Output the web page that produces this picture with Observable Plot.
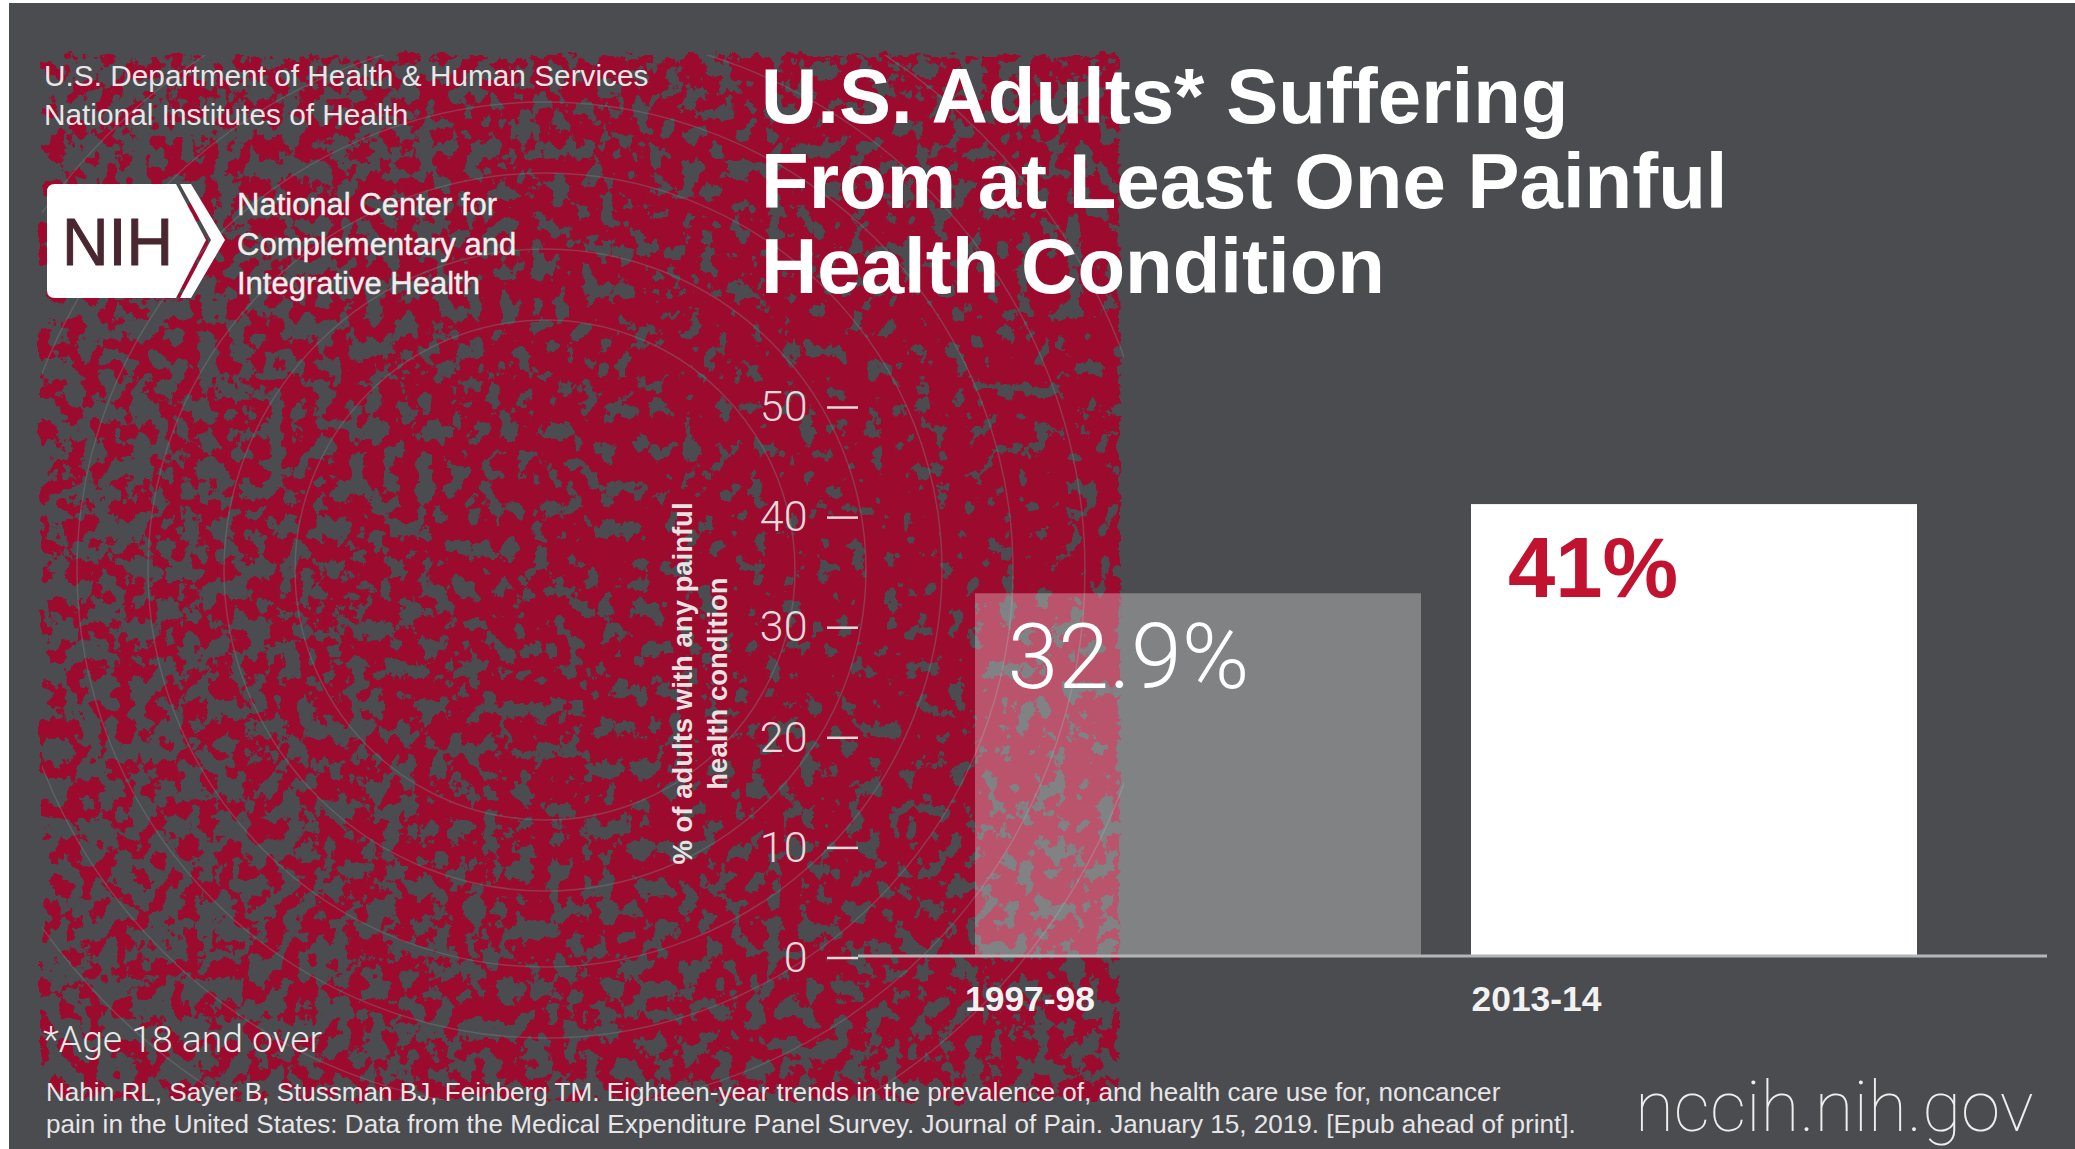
<!DOCTYPE html>
<html>
<head>
<meta charset="utf-8">
<script src="https://cdn.jsdelivr.net/npm/d3@7"></script>
<script src="https://cdn.jsdelivr.net/npm/@observablehq/plot@0.6"></script>
<style>
  html, body { margin: 0; padding: 0; background: #fff; }
  #page { position: relative; width: 2075px; height: 1149px; overflow: hidden; font-family: "Liberation Sans", sans-serif; }
  #panel { position: absolute; left: 9px; top: 3px; right: 0; bottom: 0; background: #4b4c50; }
  #chart { position: absolute; left: 0; top: 0; }
  #chart svg { display: block; background: transparent; }
  .t { position: absolute; white-space: pre; color: #fff; line-height: 1; }
  #title { left: 761px; top: 54px; font: bold 78px/85px "Liberation Sans", sans-serif; }
  #dept { left: 44px; top: 56px; font-size: 29.8px; line-height: 39px; color: #e6e6e7; }
  #center { left: 237px; top: 185px; font-size: 31px; line-height: 39.5px; color: #eeeeee; -webkit-text-stroke: .4px #eeeeee; }
  #logo { position: absolute; left: 0; top: 0; }
  #age { left: 43px; top: 1021px; font: 300 37.3px/1 Roboto, sans-serif; color: #e8e8e8; }
  #cite { left: 46px; top: 1076px; font-size: 26.1px; line-height: 32px; color: #e6e6e7; }
  #site { left: 1635px; top: 1071px; font: 100 71px/1 Roboto, sans-serif; color: #eeeeee; }
</style>
</head>
<body>
<div id="page">
  <div id="panel"></div>
  <div id="chart"></div>
  <svg id="logo" width="240" height="310">
    <path d="M55 184 H176 L206 240 L176 298 H55 Q47 298 47 290 V192 Q47 184 55 184 Z" fill="#fff"/>
    <path d="M180 184 H191 L225 240 L191 298 H180 L211 240 Z" fill="#fff"/>
    <text x="62" y="265" font-family="Liberation Sans" font-size="66" textLength="111" lengthAdjust="spacingAndGlyphs" fill="#4a2630" stroke="#4a2630" stroke-width="1">NIH</text>
  </svg>
  <div class="t" id="dept">U.S. Department of Health &amp; Human Services
National Institutes of Health</div>
  <div class="t" id="center">National Center for
Complementary and
Integrative Health</div>
  <div class="t" id="title">U.S. Adults* Suffering
From at Least One Painful
Health Condition</div>
  <div class="t" id="age">*Age 18 and over</div>
  <div class="t" id="cite">Nahin RL, Sayer B, Stussman BJ, Feinberg TM. Eighteen-year trends in the prevalence of, and health care use for, noncancer
pain in the United States: Data from the Medical Expenditure Panel Survey. Journal of Pain. January 15, 2019. [Epub ahead of print].</div>
  <div class="t" id="site">nccih.nih.gov</div>
</div>
<script>
// Share of adults reporting any painful health condition, by survey period
const periods = ["1997-98", "2013-14"];
const shares = [32.9, 41];
const shareLabels = ["32.9%", "41%"];
const yTicks = [0, 10, 20, 30, 40, 50];
const yLabelLines = "% of adults with any painful\nhealth condition";

const rows = periods.map((period, i) => ({ period, share: shares[i], label: shareLabels[i] }));

// Speckled crimson field with faint concentric rings, drawn behind the bars
const ringRadii = [250, 321, 397, 468, 540, 617];
function speckledField() {
  const g = d3.create("svg:g");
  const defs = g.append("defs");
  const grad = defs.append("radialGradient")
    .attr("id", "density").attr("gradientUnits", "userSpaceOnUse")
    .attr("cx", 880).attr("cy", 520).attr("r", 950);
  [[0, 0.67], [0.25, 0.63], [0.6, 0.54], [1, 0.47]].forEach(([offset, alpha]) =>
    grad.append("stop").attr("offset", offset).attr("stop-color", "#fff").attr("stop-opacity", alpha));

  const f = defs.append("filter").attr("id", "speckle")
    .attr("filterUnits", "userSpaceOnUse")
    .attr("x", 0).attr("y", 0).attr("width", 1200).attr("height", 1149)
    .attr("color-interpolation-filters", "sRGB");
  f.append("feTurbulence").attr("type", "fractalNoise").attr("baseFrequency", "0.06 0.05")
    .attr("numOctaves", 5).attr("seed", 11).attr("result", "noise");
  f.append("feDisplacementMap").attr("in", "SourceGraphic").attr("in2", "noise")
    .attr("scale", 16).attr("xChannelSelector", "R").attr("yChannelSelector", "G").attr("result", "shape");
  f.append("feColorMatrix").attr("in", "noise").attr("type", "matrix")
    .attr("values", "0 0 0 0 0  0 0 0 0 0  0 0 0 0 0  1 0 0 0 0").attr("result", "noiseAlpha");
  f.append("feComposite").attr("in", "shape").attr("in2", "noiseAlpha").attr("operator", "arithmetic")
    .attr("k1", 0).attr("k2", 1).attr("k3", 1).attr("k4", -1).attr("result", "sum");
  const ct = f.append("feComponentTransfer").attr("in", "sum").attr("result", "hard");
  ct.append("feFuncA").attr("type", "linear").attr("slope", 30).attr("intercept", 0);
  f.append("feFlood").attr("flood-color", "#9c0a2d").attr("result", "red");
  f.append("feComposite").attr("in", "red").attr("in2", "hard").attr("operator", "in");

  g.append("rect").attr("x", 42).attr("y", 55).attr("width", 1078).attr("height", 1045)
    .attr("fill", "url(#density)").attr("filter", "url(#speckle)");

  defs.append("clipPath").attr("id", "fieldClip").append("rect")
    .attr("x", 42).attr("y", 55).attr("width", 1082).attr("height", 1045);
  g.append("g").attr("clip-path", "url(#fieldClip)")
    .attr("fill", "none").attr("stroke", "#7d7f83").attr("stroke-opacity", 0.4).attr("stroke-width", 1.5)
    .selectAll("circle").data(ringRadii).join("circle")
    .attr("cx", 545).attr("cy", 570).attr("r", d => d);
  return g.node();
}

const chart = Plot.plot({
  width: 2075,
  height: 1149,
  marginLeft: 858,
  marginRight: 28,
  marginTop: 405,
  marginBottom: 193.5,
  style: { background: "transparent", fontFamily: "Liberation Sans, sans-serif", overflow: "visible" },
  x: { domain: periods, range: [975, 1917.5], paddingInner: 0.1, paddingOuter: 0, axis: null, label: null },
  y: { domain: [0, 50], label: null, axis: null },
  marks: [
    speckledField,
    Plot.barY(rows, { x: "period", y: "share", fill: "#fff", fillOpacity: d => d.period === periods[0] ? 0.3 : 1 }),
    Plot.ruleY([0], { stroke: "#b4b5b7", strokeWidth: 3 }),
    Plot.axisY({
      ticks: yTicks, anchor: "left", tickSize: 31, tickPadding: 20, dy: 2,
      stroke: "#e4dcdc", strokeWidth: 2.5, strokeOpacity: 1, color: "#e6dadc", fontSize: 43, fontWeight: 300,
      fontFamily: "Roboto, sans-serif", label: null
    }),
    Plot.text([yLabelLines], {
      frameAnchor: "left", textAnchor: "middle", y: [24.75], dx: -160, rotate: -90, lineHeight: 1.25,
      fill: "#e9e2e3", fontSize: 27.5, fontWeight: "bold"
    }),
    Plot.axisX({ ticks: [periods[0]], tickSize: 0, tickPadding: 30, dx: -168.5, fontSize: 35.4, fontWeight: "bold", color: "#f2f2f2", label: null }),
    Plot.axisX({ ticks: [periods[1]], tickSize: 0, tickPadding: 30, dx: -158, fontSize: 35.4, fontWeight: "bold", color: "#f2f2f2", label: null }),
    Plot.text(rows.slice(0, 1), {
      x: "period", y: "share", text: "label", textAnchor: "start", lineAnchor: "bottom",
      dx: -191, dy: 94, fill: "#fff", fontSize: 91.5, fontWeight: 300, fontFamily: "Roboto, sans-serif"
    }),
    Plot.text(rows.slice(1), {
      x: "period", y: "share", text: "label", textAnchor: "start", lineAnchor: "bottom",
      dx: -186.5, dy: 92, fill: "#c1122f", fontSize: 85, fontWeight: "bold"
    })
  ]
});
document.getElementById("chart").appendChild(chart);
</script>
</body>
</html>
